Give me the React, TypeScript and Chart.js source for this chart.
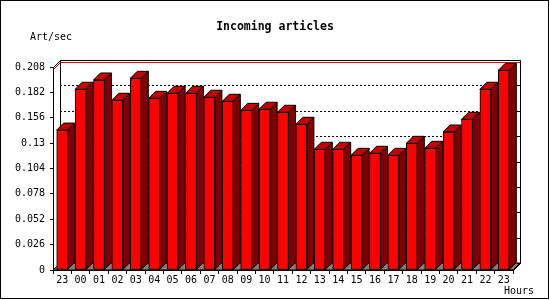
import React, { useEffect, useRef } from "react";
import { Chart, registerables } from "chart.js";

Chart.register(...registerables);

// ---- data ----
const hours = ["23", "00", "01", "02", "03", "04", "05", "06", "07", "08", "09", "10", "11", "12", "13", "14", "15", "16", "17", "18", "19", "20", "21", "22", "23"];
const articlesPerSec = [0.1434, 0.1852, 0.1947, 0.1739, 0.1964, 0.1759, 0.1811, 0.1811, 0.177, 0.1729, 0.1636, 0.1647, 0.1616, 0.1493, 0.1237, 0.1237, 0.1175, 0.1196, 0.1175, 0.1298, 0.1247, 0.1414, 0.1544, 0.1852, 0.2046];
const yTickValues = [0, 0.026, 0.052, 0.078, 0.104, 0.13, 0.156, 0.182, 0.208];
const yTickLabels = ["0", "0.026", "0.052", "0.078", "0.104", "0.13", "0.156", "0.182", "0.208"];
const peakLine = 0.206;
const titleText = "Incoming articles";
const yAxisTitle = "Art/sec";
const xAxisTitle = "Hours";

const DEPTH = 7;
const MONO = "'DejaVu Sans Mono', monospace";

const px = (v: number) => Math.round(v) + 0.5;

const threeD = {
  id: "threeD",
  beforeDatasetsDraw(chart: any) {
    const { ctx, chartArea: a, scales } = chart;
    const ys = scales.y;
    const L = a.left, R = a.right, T = a.top, B = a.bottom;
    const D = DEPTH;
    ctx.save();
    ctx.lineWidth = 1;
    // floor
    ctx.fillStyle = "#808080";
    ctx.strokeStyle = "#000";
    ctx.beginPath();
    ctx.moveTo(L, B);
    ctx.lineTo(R, B);
    ctx.lineTo(R + D, B - D);
    ctx.lineTo(L + D, B - D);
    ctx.closePath();
    ctx.fill();
    ctx.stroke();
    // dotted grid on back wall
    ctx.setLineDash([2, 2]);
    for (const v of yTickValues) {
      if (v <= 0 || v >= ys.max) continue;
      const yy = px(ys.getPixelForValue(v) - D);
      ctx.beginPath();
      ctx.moveTo(L + D, yy);
      ctx.lineTo(R + D, yy);
      ctx.stroke();
    }
    ctx.setLineDash([]);
    // back wall frame
    const bl = px(L + D), br = px(R + D), bt = px(T - D), bb = px(B - D);
    ctx.beginPath();
    ctx.moveTo(bl, bb);
    ctx.lineTo(bl, bt);
    ctx.lineTo(br, bt);
    ctx.lineTo(br, bb);
    ctx.stroke();
    ctx.beginPath();
    ctx.moveTo(px(L), px(T));
    ctx.lineTo(bl, bt);
    ctx.moveTo(px(R), px(B));
    ctx.lineTo(br, bb);
    ctx.stroke();
    // right wall ticks
    for (const v of yTickValues) {
      const yy = px(ys.getPixelForValue(v) - D);
      ctx.beginPath();
      ctx.moveTo(br - 3, yy);
      ctx.lineTo(br, yy);
      ctx.stroke();
    }
    // red peak line
    const fy = Math.round(ys.getPixelForValue(peakLine));
    ctx.strokeStyle = "#dd0000";
    ctx.beginPath();
    ctx.moveTo(px(L), fy + 0.5);
    ctx.lineTo(bl, fy - D + 0.5);
    ctx.lineTo(br, fy - D + 0.5);
    ctx.stroke();
    ctx.restore();
  },
  afterDatasetsDraw(chart: any) {
    const { ctx } = chart;
    const D = DEPTH;
    const meta = chart.getDatasetMeta(0);
    ctx.save();
    ctx.lineWidth = 1;
    ctx.strokeStyle = "#000";
    for (const el of meta.data) {
      const { x, y, base, width } = el.getProps(["x", "y", "base", "width"], true);
      const l = x - width / 2;
      const r = x + width / 2;
      // top face
      ctx.fillStyle = "#c40000";
      ctx.beginPath();
      ctx.moveTo(l, y);
      ctx.lineTo(l + D, y - D);
      ctx.lineTo(r + D, y - D);
      ctx.lineTo(r, y);
      ctx.closePath();
      ctx.fill();
      ctx.stroke();
      // side face
      ctx.fillStyle = "#800000";
      ctx.beginPath();
      ctx.moveTo(r, y);
      ctx.lineTo(r + D, y - D);
      ctx.lineTo(r + D, base - D);
      ctx.lineTo(r, base);
      ctx.closePath();
      ctx.fill();
      ctx.stroke();
    }
    ctx.restore();
  },
  afterDraw(chart: any) {
    const { ctx } = chart;
    ctx.save();
    ctx.fillStyle = "#000";
    ctx.font = `bold 11.5px ${MONO}`;
    ctx.textAlign = "center";
    ctx.textBaseline = "middle";
    ctx.fillText(titleText, 275, 27);
    ctx.font = `10px ${MONO}`;
    ctx.textAlign = "left";
    ctx.fillText(yAxisTitle, 30, 37);
    ctx.fillText(xAxisTitle, 504, 291.5);
    ctx.strokeStyle = "#000";
    ctx.lineWidth = 1;
    ctx.strokeRect(0.5, 0.5, 548, 298);
    ctx.restore();
  },
};

export default function App() {
  const ref = useRef<HTMLCanvasElement | null>(null);
  useEffect(() => {
    if (!ref.current) return;
    const chart = new Chart(ref.current, {
      type: "bar",
      data: {
        labels: hours,
        datasets: [
          {
            data: articlesPerSec,
            backgroundColor: "#ff0000",
            borderColor: "#000000",
            borderWidth: 1,
            borderSkipped: false,
            barThickness: 11,
          },
        ],
      },
      options: {
        responsive: false,
        animation: false,
        devicePixelRatio: 1,
        layout: { padding: { left: 0, right: 37, top: 67, bottom: 0 } },
        plugins: {
          legend: { display: false },
          title: { display: false },
          tooltip: { enabled: false },
        },
        scales: {
          x: {
            type: "category",
            offset: true,
            grid: {
              offset: true,
              drawOnChartArea: false,
              drawTicks: true,
              tickLength: 4,
              color: "#000",
            },
            border: { display: true, color: "#000", width: 1 },
            ticks: {
              autoSkip: false,
              maxRotation: 0,
              minRotation: 0,
              padding: 0,
              color: "#000",
              font: { family: MONO, size: 10 },
            },
            afterFit: (s: any) => {
              s.height = 30;
            },
          },
          y: {
            min: 0,
            max: 0.208,
            afterBuildTicks: (s: any) => {
              s.ticks = yTickValues.map((v) => ({ value: v }));
            },
            grid: {
              drawOnChartArea: false,
              drawTicks: true,
              tickLength: 3,
              color: "#000",
            },
            border: { display: true, color: "#000", width: 1 },
            ticks: {
              padding: 5,
              color: "#000",
              font: { family: MONO, size: 10 },
              callback: (_v: any, i: number) => yTickLabels[i],
            },
            afterFit: (s: any) => {
              s.width = 53;
            },
          },
        },
      },
      plugins: [threeD],
    });
    return () => chart.destroy();
  }, []);
  return (
    <div style={{ position: "fixed", left: 0, top: 0, width: 550, height: 300, background: "#fff" }}>
      <canvas ref={ref} width={550} height={300} />
    </div>
  );
}
